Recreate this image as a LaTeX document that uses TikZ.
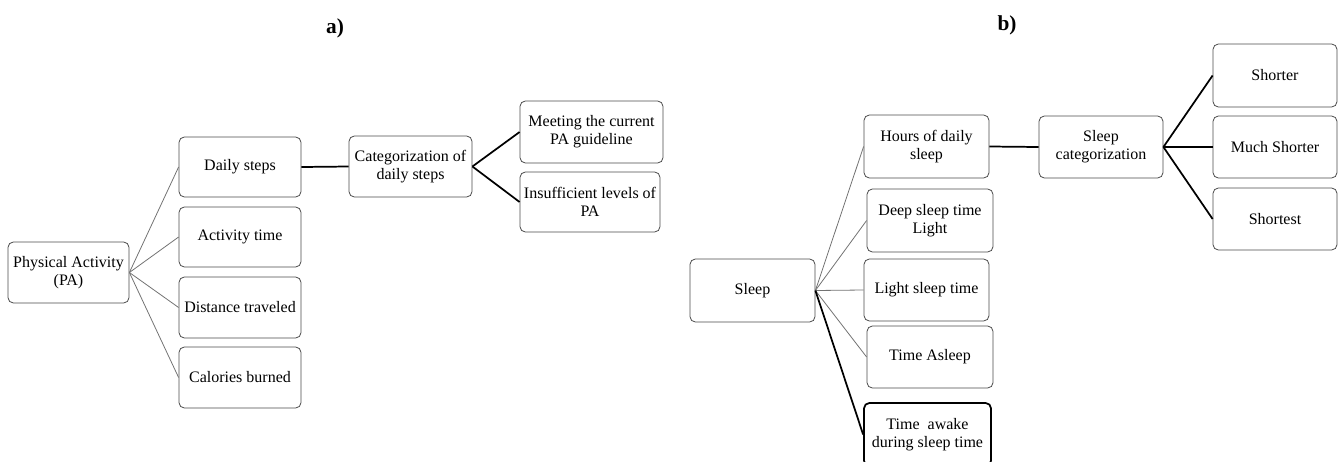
\documentclass[tikz,border=0pt]{standalone}
\usepackage{fontspec}
\setmainfont{Liberation Serif}
\tikzset{
  box/.style={draw=black!70, line width=0.6pt, rounded corners=4pt, align=center,
    inner sep=1pt, font=\fontsize{12}{13.5}\selectfont, fill=white},
  sz/.style 2 args={minimum width=0.75pt*#1, minimum height=0.75pt*#2},
  boldbox/.style={box, draw=black, line width=1.3pt},
  thin/.style={draw=black!55, line width=0.6pt},
  thick/.style={draw=black, line width=1.3pt},
  lbl/.style={font=\bfseries\fontsize{16}{18}\selectfont}
}
\begin{document}
\begin{tikzpicture}[x=0.75pt,y=-0.75pt]
\useasboundingbox (0,0) rectangle (1341,461);
\clip (0,0) rectangle (1341,461);
% a)
\node[lbl] (la) at (335,28) {a)};
\node[box, sz={121}{61}] (pa) at (68.5,272.5) {Physical Activity\\(PA)};
\node[box, sz={122}{60}] (ds) at (240,167) {Daily steps};
\node[box, sz={122}{60}] (at) at (240,237) {Activity time};
\node[box, sz={122}{61}] (dt) at (240,307.5) {Distance traveled};
\node[box, sz={122}{61}] (cb) at (240,377.5) {Calories burned};
\node[box, sz={123}{61}] (cat) at (410.5,166.5) {Categorization of\\daily steps};
\node[box, sz={143}{62}] (meet) at (591.5,132) {Meeting the current\\PA guideline};
\node[box, sz={140}{60}] (insuf) at (590,202) {Insufficient levels of\\PA};
\draw[thin] (pa.east) -- (ds.west);
\draw[thin] (pa.east) -- (at.west);
\draw[thin] (pa.east) -- (dt.west);
\draw[thin] (pa.east) -- (cb.west);
\draw[thick] (ds.east) -- (cat.west);
\draw[thick] (cat.east) -- (meet.west);
\draw[thick] (cat.east) -- (insuf.west);
% b)
\node[lbl] (lb) at (1007,25) {b)};
\node[box, sz={125}{63}] (sleep) at (752.5,290.5) {Sleep};
\node[box, sz={125}{63}] (hours) at (926.5,146.5) {Hours of daily\\sleep};
\node[box, sz={126}{63}] (deep) at (930,220.5) {Deep sleep time\\Light};
\node[box, sz={125}{62}] (light) at (926.5,290) {Light sleep time};
\node[box, sz={126}{62}] (asleep) at (930,357) {Time Asleep};
\node[boldbox, sz={127}{63}] (awake) at (927.5,434.5) {Time\ \ awake\\during sleep time};
\node[box, sz={124}{62}] (scat) at (1101,147) {Sleep\\categorization};
\node[box, sz={124}{63}] (shorter) at (1275,75.5) {Shorter};
\node[box, sz={124}{62}] (much) at (1275,147) {Much Shorter};
\node[box, sz={124}{62}] (shortest) at (1275,219) {Shortest};
\draw[thin] (sleep.east) -- (hours.west);
\draw[thin] (sleep.east) -- (deep.west);
\draw[thin] (sleep.east) -- (light.west);
\draw[thin] (sleep.east) -- (asleep.west);
\draw[thick] (sleep.east) -- (awake.west);
\draw[thick] (hours.east) -- (scat.west);
\draw[thick] (scat.east) -- (shorter.west);
\draw[thick] (scat.east) -- (much.west);
\draw[thick] (scat.east) -- (shortest.west);
\end{tikzpicture}
\end{document}
